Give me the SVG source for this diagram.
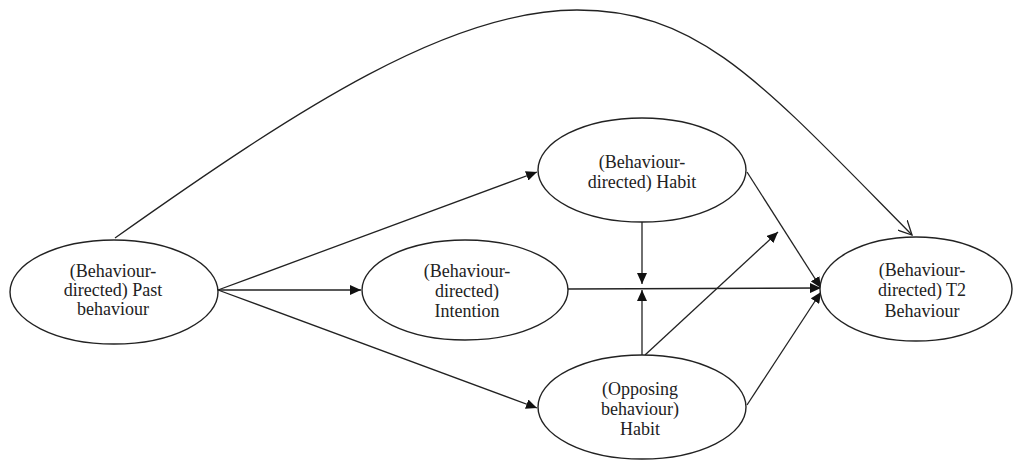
<svg xmlns="http://www.w3.org/2000/svg" width="1016" height="461" viewBox="0 0 1016 461">
<style>
.node ellipse{fill:#fff;stroke:#222;stroke-width:1.4}
.node text{font-family:"Liberation Serif","DejaVu Serif","Times New Roman",serif;font-size:18px;fill:#222;text-anchor:middle}
.conn path,.conn line{stroke:#222;stroke-width:1.3;fill:none}
</style>
<defs>
<marker id="arr" markerUnits="userSpaceOnUse" markerWidth="12" markerHeight="10" refX="11" refY="5" orient="auto">
<path d="M0,0 L11,5 L0,10 Z" fill="#111"/>
</marker>
<marker id="open" markerUnits="userSpaceOnUse" markerWidth="16" markerHeight="14" refX="14" refY="7" orient="auto">
<path d="M0,0 L14,7 L0,14" fill="none" stroke="#222" stroke-width="1.3"/>
</marker>
</defs>
<rect width="1016" height="461" fill="#fff"/>
<g id="connectors" class="conn">
<path d="M115,238 C300,107 450,10 577,10 C700,10 762,83 912,235" marker-end="url(#open)"/>
<line x1="218" y1="290" x2="537" y2="172" marker-end="url(#arr)"/>
<line x1="218" y1="290" x2="361" y2="290" marker-end="url(#arr)"/>
<line x1="218" y1="290" x2="537" y2="408" marker-end="url(#arr)"/>
<line x1="568" y1="289" x2="821" y2="288" marker-end="url(#arr)"/>
<line x1="642" y1="222" x2="642" y2="284" marker-end="url(#arr)"/>
<line x1="642" y1="355" x2="642" y2="290" marker-end="url(#arr)"/>
<line x1="645" y1="355" x2="778" y2="232" marker-end="url(#arr)"/>
<line x1="747" y1="172" x2="821" y2="288" marker-end="url(#arr)"/>
<line x1="747" y1="405" x2="821" y2="292" marker-end="url(#arr)"/>
</g>
<g id="past" class="node">
<ellipse cx="114" cy="292" rx="104" ry="52"/>
<text x="113" y="277">(Behaviour-</text>
<text x="113" y="296">directed) Past</text>
<text x="113" y="315">behaviour</text>
</g>
<g id="intention" class="node">
<ellipse cx="465" cy="290" rx="103" ry="50"/>
<text x="467" y="277">(Behaviour-</text>
<text x="467" y="297">directed)</text>
<text x="467" y="317">Intention</text>
</g>
<g id="habit" class="node">
<ellipse cx="642" cy="170" rx="104" ry="52"/>
<text x="642" y="168">(Behaviour-</text>
<text x="642" y="188">directed) Habit</text>
</g>
<g id="opposing" class="node">
<ellipse cx="642" cy="407" rx="104" ry="52"/>
<text x="640" y="395">(Opposing</text>
<text x="640" y="415">behaviour)</text>
<text x="640" y="435">Habit</text>
</g>
<g id="t2" class="node">
<ellipse cx="916" cy="289" rx="96" ry="52"/>
<text x="922" y="276">(Behaviour-</text>
<text x="922" y="296">directed) T2</text>
<text x="922" y="317">Behaviour</text>
</g>
</svg>
